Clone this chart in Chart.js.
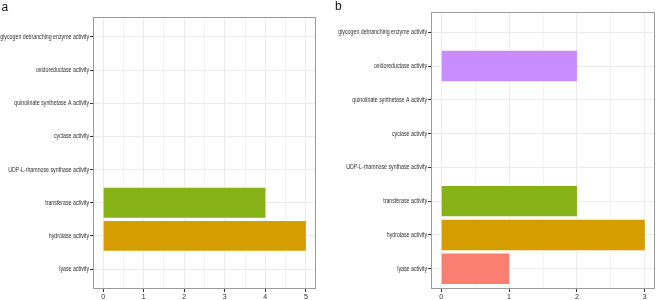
<!DOCTYPE html>
<html>
<head>
<meta charset="utf-8">
<script src="https://cdn.jsdelivr.net/npm/chart.js@4"></script>
<style>
  html, body { margin: 0; padding: 0; background: #fff; }
  body { width: 658px; height: 300px; position: relative; overflow: hidden; }
  .wrap { position: absolute; top: 0; height: 300px; }
  #wa { left: 0; width: 330px; }
  #wb { left: 330px; width: 328px; }
  .tag { position: absolute; font-family: 'Liberation Sans', Arial, sans-serif; font-size: 12px; line-height: 12px; color: #111; }
</style>
</head>
<body>
<div class="wrap" id="wa"><canvas id="ca" width="330" height="300"></canvas></div>
<div class="wrap" id="wb"><canvas id="cb" width="328" height="300"></canvas></div>
<div class="tag" style="left:1.5px; top:1px;">a</div>
<div class="tag" style="left:335px; top:0px;">b</div>
<script>
// ---- data ----
const categories = [
  'glycogen debranching enzyme activity',
  'oxidoreductase activity',
  'quinolinate synthetase A activity',
  'cyclase activity',
  'UDP-L-rhamnose synthase activity',
  'transferase activity',
  'hydrolase activity',
  'lyase activity'
];
const valuesA = [0, 0, 0, 0, 0, 4, 5, 0];
const valuesB = [0, 2, 0, 0, 0, 2, 3, 1];
const xTicksA = [0, 1, 2, 3, 4, 5];
const xTicksB = [0, 1, 2, 3];
const barColors = ['#FF61CC', '#C98CFF', '#00A9FF', '#00BFC4', '#00BE67', '#86B218', '#D69D00', '#FA7F72'];

const FONT = "'Liberation Sans', Arial, sans-serif";
const SQUEEZE = 0.75;
const TEXT = '#2e2e2e';

const borderPlugin = {
  id: 'panelBorder',
  beforeDraw(chart) {
    // horizontally condense the category labels (narrow Helvetica look)
    const ys = chart.scales.y;
    if (ys && !ys._squeezed) {
      const orig = ys.drawLabels.bind(ys);
      ys._computeLabelArea = function () { return undefined; };
      ys.drawLabels = function (area) {
        const ctx = this.ctx;
        const xr = this.right - this.options.grid.tickLength - this.options.ticks.padding;
        ctx.save();
        ctx.translate(xr, 0);
        ctx.scale(SQUEEZE, 1);
        ctx.translate(-xr, 0);
        orig(area);
        ctx.restore();
      };
      ys._squeezed = true;
    }
  },
  afterDraw(chart) {
    const a = chart.chartArea, ctx = chart.ctx;
    ctx.save();
    ctx.strokeStyle = '#9a9a9a';
    ctx.lineWidth = 1;
    ctx.strokeRect(Math.round(a.left) + 0.5, Math.round(a.top) + 0.5,
                   Math.round(a.right - a.left) - 1, Math.round(a.bottom - a.top) - 1);
    ctx.restore();
  }
};

function makeChart(id, values, xTicks, yWidth, pad) {
  const xMax = xTicks[xTicks.length - 1];
  const expand = xMax * 0.05;
  const gridVals = [];
  for (let i = 0; i <= xMax * 2; i++) gridVals.push(i / 2);
  return new Chart(document.getElementById(id), {
    type: 'bar',
    data: {
      datasets: [{
        data: values.map((v, i) => ({ x: v, y: i })),
        backgroundColor: barColors,
        borderWidth: 0,
        barPercentage: 0.9,
        categoryPercentage: 1.0
      }]
    },
    options: {
      indexAxis: 'y',
      responsive: false,
      animation: false,
      events: [],
      layout: { padding: pad },
      plugins: { legend: { display: false }, tooltip: { enabled: false } },
      scales: {
        x: {
          type: 'linear',
          offset: false,
          min: -expand,
          max: xMax + expand,
          afterBuildTicks(s) { s.ticks = gridVals.map(v => ({ value: v })); },
          afterFit(s) { s.height = 11; },
          border: { display: false },
          grid: {
            offset: false,
            color: '#EBEBEB',
            lineWidth: c => (c.tick && Number.isInteger(c.tick.value)) ? 1 : 0.6,
            tickColor: c => (c.tick && Number.isInteger(c.tick.value)) ? '#333' : 'rgba(0,0,0,0)',
            tickLength: 3,
            drawTicks: true
          },
          ticks: {
            autoSkip: false,
            maxRotation: 0,
            padding: 1,
            color: TEXT,
            font: { family: FONT, size: 7 },
            callback: v => Number.isInteger(v) && xTicks.includes(v) ? String(v) : ''
          }
        },
        y: {
          type: 'linear',
          offset: false,
          reverse: true,
          min: -0.6,
          max: categories.length - 1 + 0.6,
          afterBuildTicks(s) { s.ticks = categories.map((c, i) => ({ value: i })); },
          afterFit(s) { s.width = yWidth; },
          border: { display: false },
          grid: {
            offset: false,
            color: '#EBEBEB',
            lineWidth: 1,
            tickColor: '#333',
            tickLength: 3,
            drawTicks: true
          },
          ticks: {
            autoSkip: false,
            padding: 1,
            color: TEXT,
            font: { family: FONT, size: 7 },
            callback: v => categories[v]
          }
        }
      }
    },
    plugins: [borderPlugin]
  });
}

makeChart('ca', valuesA, xTicksA, 93, { top: 17, right: 14, bottom: 0, left: 0 });
makeChart('cb', valuesB, xTicksB, 101, { top: 12, right: 3, bottom: 0, left: 0 });
</script>
</body>
</html>
